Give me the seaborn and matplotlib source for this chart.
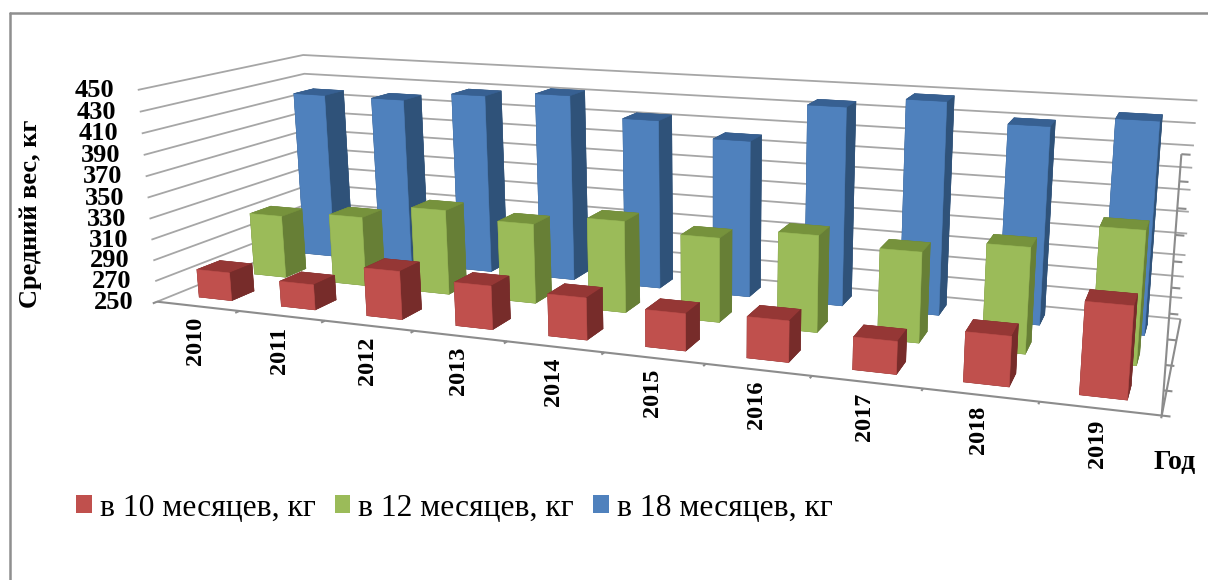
#!/usr/bin/env python3

import numpy as np
import matplotlib
matplotlib.use('Agg')
import matplotlib.pyplot as plt
from matplotlib.lines import Line2D
from matplotlib.patches import Patch
from mpl_toolkits.mplot3d.art3d import Line3DCollection
import seaborn as sns

years = ['2010', '2011', '2012', '2013', '2014', '2015', '2016', '2017', '2018', '2019']
value_ticks = [250, 270, 290, 310, 330, 350, 370, 390, 410, 430, 450]
series_names = ['в 10 месяцев, кг', 'в 12 месяцев, кг', 'в 18 месяцев, кг']

weight_10 = [277, 274, 295, 290, 288, 283, 286, 278, 292, 326]
weight_12 = [312, 318, 332, 326, 336, 328, 338, 331, 343, 365]
weight_18 = [419, 419, 428, 433, 414, 400, 437, 447, 430, 440]

# front, top, side colour of each series
face_colors = [('#C0504D', '#953735', '#772C2A'),
               ('#9BBB59', '#76923C', '#677F36'),
               ('#4F81BD', '#376092', '#2F5279')]

W, H = 1208, 580
sns.set_theme(style='white')
plt.rcParams['font.family'] = ['Liberation Serif', 'DejaVu Serif']

fig = plt.figure(figsize=(W / 100, H / 100), dpi=100)
s = W / H
ax = fig.add_axes([0, (1 - s) / 2, 1, s], projection='3d', computed_zorder=False)
ax.set_axis_off()

x_max, y_max, z_min, z_max = len(years), len(series_names), value_ticks[0], value_ticks[-1]

# camera: fit a projection to the chart box corners (data corner -> pixel)
corners = [((0, 0, z_min), (157, 297)), ((0, 0, z_max), (138, 92)),
           ((0, y_max, z_min), (315, 243)), ((0, y_max, z_max), (303, 52)),
           ((x_max, 0, z_min), (1160, 420)), ((x_max, 0, z_max), (1183, 153)),
           ((x_max, y_max, z_min), (1182, 314)), ((x_max, y_max, z_max), (1196, 103))]
norm = np.array([[1 / x_max, 0, 0, 0], [0, 1 / y_max, 0, 0],
                 [0, 0, 1 / (z_max - z_min), -z_min / (z_max - z_min)], [0, 0, 0, 1]])
rows = []
for world, (px, py) in corners:
    h = norm @ np.array([*world, 1.0])
    u, v = px / 1000, py / 1000
    rows.append([*h, 0, 0, 0, 0, *(-u * h)])
    rows.append([0, 0, 0, 0, *h, *(-v * h)])
P = np.linalg.svd(np.array(rows))[2][-1].reshape(3, 4)
P = np.diag([1000, 1000, 1]) @ P @ norm
if (P[2] @ np.array([0, 0, z_min, 1])) < 0:
    P = -P


def to_px(x, y, z):
    q = P @ np.array([x, y, z, 1.0])
    return q[0] / q[2], q[1] / q[2]


ax.apply_aspect()
inv = ax.transData.inverted()
p0 = inv.transform((0, 0))
p1 = inv.transform((W, H))
sx, sy = (p1[0] - p0[0]) / W, (p1[1] - p0[1]) / H
w_near = min(P[2] @ np.array([*c[0], 1.0]) for c in corners)
M = np.array([p0[0] * P[2] + sx * P[0],
              (p0[1] + H * sy) * P[2] - sy * P[1],
              P[2] - np.array([0, 0, 0, w_near * 0.9]),
              P[2]])
ax.get_proj = lambda: M


def label(px, py, text, **kw):
    fig.text(px / W, 1 - py / H, text, color='black', **kw)


# walls
grid_color = '#A6A6A6'
axis_color = '#8C8C8C'
grid_segs = []
axis_segs = []
for v in value_ticks:
    grid_segs.append([(0, 0, v), (0, y_max, v), (x_max, y_max, v)])
    axis_segs.append([(x_max, 0, v), (x_max + 0.07, 0, v)])
    px, py = to_px(0, 0, v)
    label(px - 23.5, py + 0.5, str(v), ha='right', va='center', fontsize=19, fontweight='bold')
axis_segs.append([(0, 0, z_min), (x_max, 0, z_min), (x_max, y_max, z_min)])
axis_segs.append([(x_max, 0, z_min), (x_max, 0, z_max)])
for i in range(x_max + 1):
    axis_segs.append([(i, 0, z_min), (i, -0.07, z_min)])
ax.add_collection3d(Line3DCollection(grid_segs, colors=grid_color, linewidths=1.3, zorder=1), autolim=False)
ax.add_collection3d(Line3DCollection(axis_segs, colors=axis_color, linewidths=1.5, zorder=1), autolim=False)

# bars
bar_w = 0.4
bar_d = 0.4
for j, vals in reversed(list(enumerate([weight_10, weight_12, weight_18]))):
    front, top, side = face_colors[j]
    for i, val in enumerate(vals):
        cols = [side, top, front, side, side, side]
        ax.bar3d(i + 0.3, j + 0.3, z_min, bar_w, bar_d, val - z_min, shade=False,
                 color=cols, edgecolors=cols, linewidth=0.4, zorder=10 - j * 2 + i * 0.01)

for i, year in enumerate(years):
    px, py = to_px(i + 0.5, 0, z_min)
    label(px - 2, py + 35, year, rotation=90, ha='center', va='center', fontsize=17.5, fontweight='bold')

label(31, 214, 'Средний вес, кг', rotation=90, ha='center', va='center', fontsize=19, fontweight='bold')
label(1175, 463, 'Год', ha='center', va='center', fontsize=20, fontweight='bold')

handles = [Patch(facecolor=c[0], edgecolor='none') for c in face_colors]
fig.legend(handles, series_names, loc='center left', bbox_to_anchor=(76 / W, 1 - 508 / H), ncol=3,
           frameon=False, fontsize=22.8, handlelength=0.5, handleheight=0.5, handletextpad=0.25,
           columnspacing=0.6, labelcolor='black', borderpad=0, borderaxespad=0)

# chart frame
fig.add_artist(Line2D([10 / W, 10 / W], [0, 1 - 13 / H], color='#8F8F8F', lw=1.8))
fig.add_artist(Line2D([10 / W, 1], [1 - 13 / H, 1 - 13 / H], color='#8F8F8F', lw=1.8))

plt.savefig('out.png', dpi=100)
plt.close()
